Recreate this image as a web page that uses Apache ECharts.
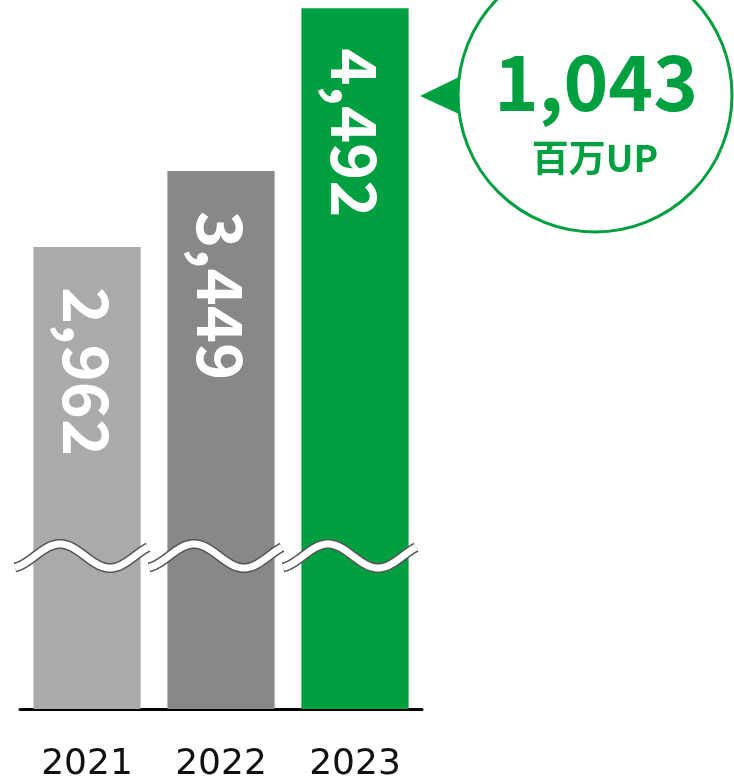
<!DOCTYPE html>
<html>
<head>
<meta charset="utf-8">
<script src="https://cdn.jsdelivr.net/npm/echarts@6/dist/echarts.min.js"></script>
<style>
html,body{margin:0;padding:0;background:#fff;}
#main{width:734px;height:783px;}
</style>
</head>
<body>
<div id="main"></div>
<script>
// ---- data ----
const years = ['2021', '2022', '2023'];
const sales = [2962, 3449, 4492];
const upUnit = '百万UP';

// ---- styles ----
const GREEN = '#00a040';
const barColors = ['#aaaaaa', '#888888', GREEN];

const chart = echarts.init(document.getElementById('main'));

const option = {
  animation: false,
  grid: { left: 20, right: 312, top: 7, bottom: 72 },
  xAxis: {
    type: 'category',
    data: years,
    axisLine: { lineStyle: { color: '#000', width: 3 } },
    axisTick: { show: false },
    axisLabel: { fontSize: 36, fontFamily: 'DejaVu Sans', color: '#111', margin: 38 }
  },
  yAxis: { type: 'value', min: 0, max: 4500, show: false, splitLine: { show: false } },
  series: [{
    type: 'bar',
    barCategoryGap: '20%',
    data: sales.map((v, i) => ({ value: v, itemStyle: { color: barColors[i] } })),
    label: {
      show: true,
      position: 'insideTop',
      distance: 40,
      rotate: -90,
      align: 'left',
      verticalAlign: 'middle',
      color: '#fff',
      fontSize: 63,
      fontWeight: 'bold',
      fontFamily: '"Noto Sans CJK JP"',
      formatter: p => p.value.toLocaleString('en-US')
    }
  }]
};
chart.setOption(option);

// ---- decorations: wave breaks and callout ----
const elements = [];
const baseY = chart.convertToPixel({ yAxisIndex: 0 }, 0);
const waveY = baseY - 153;
years.forEach((y, i) => {
  const c = chart.convertToPixel({ xAxisIndex: 0 }, i);
  const pts = [];
  for (let x = c - 72; x <= c + 61; x += 1) {
    pts.push([x, waveY - 12 * Math.cos(2 * Math.PI * (x - (c - 27)) / 100)]);
  }
  elements.push({ type: 'polyline', z: 100, shape: { points: pts }, style: { stroke: '#555', lineWidth: 10, fill: null, lineCap: 'butt' } });
  elements.push({ type: 'polyline', z: 101, shape: { points: pts }, style: { stroke: '#fff', lineWidth: 7, fill: null, lineCap: 'butt' } });
});

const diff = sales[sales.length - 1] - sales[sales.length - 2];
const cx = 595, cy = 95, r = 137;
elements.push({ type: 'circle', z: 100, shape: { cx: cx, cy: cy, r: r }, style: { stroke: GREEN, lineWidth: 3, fill: '#fff' } });
elements.push({ type: 'polygon', z: 101, shape: { points: [[420, 96], [459, 77], [459, 114]] }, style: { fill: GREEN } });
elements.push({
  type: 'text', z: 102, x: cx + 1, y: 82,
  style: { text: diff.toLocaleString('en-US'), fill: GREEN, font: 'bold 76px "Noto Sans CJK JP"', align: 'center', verticalAlign: 'middle' }
});
elements.push({
  type: 'text', z: 102, x: cx, y: 158,
  style: { text: upUnit, fill: GREEN, font: 'bold 37px "Noto Sans CJK JP"', align: 'center', verticalAlign: 'middle' }
});
chart.setOption({ graphic: { elements: elements } });
</script>
</body>
</html>
